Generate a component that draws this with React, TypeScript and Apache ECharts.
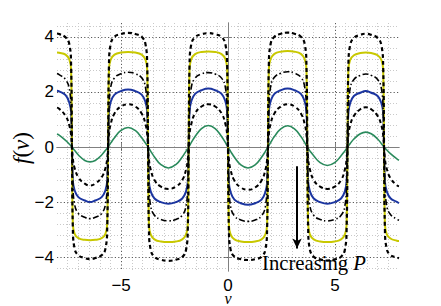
import React, { useEffect, useRef } from 'react';
import * as echarts from 'echarts';

// shared abscissa samples (v)
const vGrid = [
  -8, -7.9, -7.6, -7.42, -7.34, -7.3,
  -7.26, -7.18, -7.0, -6.7, -6.455, -6.21, -5.91, -5.73, -5.65, -5.61,
  -5.57, -5.49, -5.31, -5.01, -4.675, -4.34, -4.04, -3.86, -3.78, -3.74,
  -3.7, -3.62, -3.44, -3.14, -2.79, -2.44, -2.14, -1.96, -1.88, -1.84,
  -1.8, -1.72, -1.54, -1.24, -0.92, -0.6, -0.3, -0.12, -0.04, 0,
  0.04, 0.12, 0.3, 0.6, 0.935, 1.27, 1.57, 1.75, 1.83, 1.87,
  1.91, 1.99, 2.17, 2.47, 2.79, 3.11, 3.41, 3.59, 3.67, 3.71,
  3.75, 3.83, 4.01, 4.31, 4.65, 4.99, 5.29, 5.47, 5.55, 5.59,
  5.63, 5.71, 5.89, 6.19, 6.445, 6.7, 7.0, 7.18, 7.26, 7.3,
  7.34, 7.42, 7.6, 7.9, 8,
];

const outerDashed = [
  4.12, 4.1, 3.98, 3.72, 2.95, 0,
  -2.9, -3.68, -3.93, -4.03, -4.07, -4.03, -3.93, -3.68, -2.9, 0,
  2.95, 3.73, 4.0, 4.1, 4.14, 4.1, 4.0, 3.73, 2.95, 0,
  -2.95, -3.72, -3.99, -4.09, -4.13, -4.09, -3.99, -3.72, -2.95, 0,
  2.95, 3.72, 3.99, 4.09, 4.13, 4.09, 3.99, 3.72, 2.95, 0,
  -2.95, -3.72, -3.98, -4.07, -4.1, -4.07, -3.98, -3.72, -2.95, 0,
  2.95, 3.73, 4.0, 4.11, 4.15, 4.11, 4.0, 3.73, 2.95, 0,
  -2.95, -3.72, -3.98, -4.08, -4.12, -4.08, -3.98, -3.72, -2.95, 0,
  2.9, 3.68, 3.96, 4.07, 4.11, 4.07, 3.96, 3.68, 2.9, 0,
  -2.95, -3.68, -3.92, -4.01, -4.04,
];

const yellowSolid = [
  3.43, 3.42, 3.35, 3.17, 2.8, 0,
  -2.78, -3.14, -3.31, -3.37, -3.38, -3.37, -3.31, -3.14, -2.78, 0,
  2.8, 3.17, 3.35, 3.43, 3.45, 3.43, 3.35, 3.17, 2.8, 0,
  -2.8, -3.17, -3.35, -3.43, -3.45, -3.43, -3.35, -3.17, -2.8, 0,
  2.82, 3.19, 3.37, 3.45, 3.47, 3.45, 3.37, 3.19, 2.82, 0,
  -2.8, -3.17, -3.35, -3.43, -3.45, -3.43, -3.35, -3.17, -2.8, 0,
  2.82, 3.19, 3.38, 3.46, 3.48, 3.46, 3.38, 3.19, 2.82, 0,
  -2.8, -3.17, -3.35, -3.43, -3.45, -3.43, -3.35, -3.17, -2.8, 0,
  2.78, 3.15, 3.33, 3.41, 3.43, 3.41, 3.33, 3.15, 2.78, 0,
  -2.78, -3.15, -3.32, -3.4, -3.41,
];

const dashDot = [
  2.67, 2.63, 2.45, 2.1, 1.28, 0,
  -1.25, -2.07, -2.41, -2.55, -2.6, -2.55, -2.41, -2.07, -1.25, 0,
  1.3, 2.16, 2.51, 2.66, 2.71, 2.66, 2.51, 2.16, 1.3, 0,
  -1.29, -2.13, -2.48, -2.63, -2.68, -2.63, -2.48, -2.13, -1.29, 0,
  1.3, 2.15, 2.5, 2.65, 2.7, 2.65, 2.5, 2.15, 1.3, 0,
  -1.3, -2.15, -2.5, -2.65, -2.7, -2.65, -2.5, -2.15, -1.3, 0,
  1.31, 2.17, 2.53, 2.68, 2.73, 2.68, 2.53, 2.17, 1.31, 0,
  -1.29, -2.13, -2.48, -2.63, -2.68, -2.63, -2.48, -2.13, -1.29, 0,
  1.28, 2.11, 2.45, 2.6, 2.65, 2.6, 2.45, 2.11, 1.28, 0,
  -1.28, -2.11, -2.45, -2.62, -2.66,
];

const blueSolid = [
  2.04, 2.02, 1.88, 1.6, 1.26, 0,
  -1.23, -1.56, -1.82, -1.94, -2.0, -1.94, -1.82, -1.56, -1.23, 0,
  1.28, 1.63, 1.9, 2.03, 2.09, 2.03, 1.9, 1.63, 1.28, 0,
  -1.26, -1.6, -1.87, -2.0, -2.06, -2.0, -1.87, -1.6, -1.26, 0,
  1.3, 1.65, 1.93, 2.06, 2.12, 2.06, 1.93, 1.65, 1.3, 0,
  -1.29, -1.63, -1.91, -2.04, -2.1, -2.04, -1.91, -1.63, -1.29, 0,
  1.3, 1.65, 1.93, 2.06, 2.12, 2.06, 1.93, 1.65, 1.3, 0,
  -1.26, -1.6, -1.87, -2.0, -2.06, -2.0, -1.87, -1.6, -1.26, 0,
  1.24, 1.58, 1.85, 1.97, 2.03, 1.97, 1.85, 1.58, 1.24, 0,
  -1.25, -1.59, -1.86, -1.99, -2.04,
];

const innerDashed = [
  1.43, 1.39, 1.13, 0.77, 0.42, 0,
  -0.41, -0.75, -1.1, -1.33, -1.4, -1.33, -1.1, -0.75, -0.41, 0,
  0.45, 0.83, 1.22, 1.47, 1.55, 1.47, 1.22, 0.83, 0.45, 0,
  -0.44, -0.81, -1.2, -1.44, -1.52, -1.44, -1.2, -0.81, -0.44, 0,
  0.45, 0.83, 1.22, 1.47, 1.55, 1.47, 1.22, 0.83, 0.45, 0,
  -0.45, -0.83, -1.22, -1.47, -1.55, -1.47, -1.22, -0.83, -0.45, 0,
  0.45, 0.83, 1.22, 1.47, 1.55, 1.47, 1.22, 0.83, 0.45, 0,
  -0.44, -0.81, -1.2, -1.44, -1.52, -1.44, -1.2, -0.81, -0.44, 0,
  0.42, 0.77, 1.13, 1.37, 1.44, 1.37, 1.13, 0.77, 0.42, 0,
  -0.42, -0.77, -1.13, -1.39, -1.43,
];

const greenSolid = [
  0.47, 0.43, 0.24, 0.1, 0.035, 0,
  -0.04, -0.12, -0.29, -0.49, -0.54, -0.49, -0.29, -0.12, -0.04, 0,
  0.05, 0.14, 0.34, 0.6, 0.71, 0.6, 0.34, 0.14, 0.05, 0,
  -0.05, -0.15, -0.36, -0.64, -0.76, -0.64, -0.36, -0.15, -0.05, 0,
  0.05, 0.16, 0.38, 0.67, 0.78, 0.67, 0.38, 0.16, 0.05, 0,
  -0.05, -0.16, -0.37, -0.65, -0.76, -0.65, -0.37, -0.16, -0.05, 0,
  0.05, 0.16, 0.38, 0.66, 0.77, 0.66, 0.38, 0.16, 0.05, 0,
  -0.05, -0.14, -0.32, -0.57, -0.67, -0.57, -0.32, -0.14, -0.05, 0,
  0.04, 0.12, 0.29, 0.48, 0.54, 0.48, 0.29, 0.12, 0.04, 0,
  -0.035, -0.1, -0.24, -0.43, -0.48,
];

const xRange = [-8, 8];
const yRange = [-4.5, 4.5];
const xMajorTicks = [-5, 0, 5];
const yMajorTicks = [-4, -2, 0, 2, 4];
const xMinorStep = 0.5;
const yMinorStep = 0.4;

const arrowV = 3.23;
const arrowFrom = -0.7;
const arrowTo = -3.68;

const annotationText = 'Increasing ';
const annotationVar = 'P';

function minorValues(lo: number, hi: number, step: number, majors: number[]) {
  const out: number[] = [];
  const n0 = Math.ceil(lo / step - 1e-9);
  const n1 = Math.floor(hi / step + 1e-9);
  for (let k = n0; k <= n1; k++) {
    const v = Math.round(k * step * 1000) / 1000;
    if (v <= lo || v >= hi) continue;
    if (majors.some((m) => Math.abs(m - v) < 1e-6)) continue;
    out.push(v);
  }
  return out;
}

const fmt = (v: number) => (v < 0 ? '\u2212' + Math.abs(v) : String(v));

export default function App() {
  const ref = useRef<HTMLDivElement>(null);
  useEffect(() => {
    const chart = echarts.init(ref.current!, null, { renderer: 'svg' });
    const frame = '#808080';
    const majorGrid = { show: true, lineStyle: { color: '#5a5a5a', width: 1, type: [1.2, 2.2] } };
    const minorGrid = { show: true, lineStyle: { color: '#c9c9c9', width: 1, type: [1, 2] } };
    const labelFont = '"Liberation Sans", Arial, sans-serif';
    const serif = '"Liberation Serif", serif';

    const mk = (vals: number[]) => vGrid.map((v, i) => [v, vals[i]]);
    const lineSeries = (name: string, vals: number[], color: string, width: number, type: any, z: number) => ({
      name,
      type: 'line',
      data: mk(vals),
      xAxisIndex: 0,
      yAxisIndex: 0,
      showSymbol: false,
      symbol: 'none',
      smooth: 0.45,
      z,
      lineStyle: { color, width, type },
      silent: true,
    });

    const option: any = {
      animation: false,
      backgroundColor: '#fff',
      grid: { left: 57, right: 42, top: 23, bottom: 35, containLabel: false, outerBoundsMode: 'none' },
      xAxis: [
        {
          type: 'value', min: xRange[0], max: xRange[1], position: 'bottom',
          axisLine: { show: true, lineStyle: { color: frame, width: 1 } },
          axisTick: { show: true, inside: true, length: 4, customValues: xMajorTicks, lineStyle: { color: frame } },
          axisLabel: {
            show: true, customValues: xMajorTicks, formatter: fmt, margin: 8,
            color: '#000', fontSize: 17, lineHeight: 12, fontFamily: labelFont,
          },
          splitLine: majorGrid,
          z: 1,
        },
        {
          type: 'value', min: xRange[0], max: xRange[1], position: 'bottom',
          axisLine: { show: false },
          axisTick: { show: false, customValues: minorValues(xRange[0], xRange[1], xMinorStep, xMajorTicks) },
          axisLabel: { show: false },
          splitLine: minorGrid,
          z: 0,
        },
        {
          type: 'value', min: xRange[0], max: xRange[1], position: 'top',
          axisLine: { show: true, lineStyle: { color: frame, width: 1 } },
          axisTick: { show: true, inside: true, length: 4, customValues: xMajorTicks, lineStyle: { color: frame } },
          axisLabel: { show: false },
          splitLine: { show: false },
        },
      ],
      yAxis: [
        {
          type: 'value', min: yRange[0], max: yRange[1], position: 'left',
          axisLine: { show: true, lineStyle: { color: frame, width: 1 } },
          axisTick: { show: true, inside: true, length: 4, customValues: yMajorTicks, lineStyle: { color: frame } },
          axisLabel: {
            show: true, customValues: yMajorTicks, formatter: fmt, margin: 3,
            color: '#000', fontSize: 17, lineHeight: 14, fontFamily: labelFont,
          },
          splitLine: majorGrid,
          z: 1,
        },
        {
          type: 'value', min: yRange[0], max: yRange[1], position: 'left',
          axisLine: { show: false },
          axisTick: { show: false, customValues: minorValues(yRange[0], yRange[1], yMinorStep, yMajorTicks) },
          axisLabel: { show: false },
          splitLine: minorGrid,
          z: 0,
        },
        {
          type: 'value', min: yRange[0], max: yRange[1], position: 'right',
          axisLine: { show: true, lineStyle: { color: frame, width: 1 } },
          axisTick: { show: true, inside: true, length: 4, customValues: yMajorTicks, lineStyle: { color: frame } },
          axisLabel: { show: false },
          splitLine: { show: false },
        },
      ],
      series: [
        lineSeries('green', greenSolid, '#2a8a5c', 1.6, 'solid', 2),
        lineSeries('blue', blueSolid, '#1b35a0', 2, 'solid', 3),
        lineSeries('yellow', yellowSolid, '#c8c800', 2, 'solid', 4),
        lineSeries('innerDashed', innerDashed, '#000', 2, [4, 3], 5),
        lineSeries('dashDot', dashDot, '#000', 1.6, [6, 2.5, 1.5, 2.5], 6),
        lineSeries('outerDashed', outerDashed, '#000', 2.2, [4, 3], 7),
        {
          type: 'line',
          data: [],
          xAxisIndex: 0,
          yAxisIndex: 0,
          z: 8,
          markLine: {
            silent: true,
            animation: false,
            symbol: ['none', 'arrow'],
            symbolSize: [7, 10],
            label: { show: false },
            lineStyle: { color: '#000', width: 2, type: 'solid' },
            data: [[{ coord: [arrowV, arrowFrom] }, { coord: [arrowV, arrowTo] }]],
          },
        },
      ],
      graphic: [
        {
          type: 'text',
          x: 21,
          y: 148,
          rotation: Math.PI / 2,
          style: {
            text: '{i|f}{r|(}{i|v}{r|)}',
            align: 'center',
            verticalAlign: 'middle',
            fill: '#000',
            fontSize: 23,
            fontFamily: serif,
            rich: {
              i: { fontSize: 23, fontFamily: serif, fontStyle: 'italic', fill: '#000' },
              r: { fontSize: 23, fontFamily: serif, fill: '#000' },
            },
          },
          z: 10,
        },
        {
          type: 'text',
          x: 228,
          y: 298,
          style: {
            text: 'v',
            align: 'center',
            verticalAlign: 'middle',
            fill: '#000',
            fontSize: 16,
            lineHeight: 9,
            fontStyle: 'italic',
            fontFamily: serif,
          },
          z: 10,
        },
        {
          type: 'text',
          x: 262,
          y: 263,
          style: {
            text: '{r|' + annotationText + '}{i|' + annotationVar + '}',
            align: 'left',
            verticalAlign: 'middle',
            fill: '#000',
            fontSize: 20.7,
            fontFamily: serif,
            rich: {
              r: { fontSize: 20.7, fontFamily: serif, fill: '#000' },
              i: { fontSize: 20.7, fontFamily: serif, fontStyle: 'italic', fill: '#000' },
            },
          },
          z: 10,
        },
      ],
    };
    chart.setOption(option);
    return () => chart.dispose();
  }, []);
  return (
    <div
      ref={ref}
      style={{ position: 'fixed', left: 0, top: 0, width: 441, height: 306, background: '#fff' }}
    />
  );
}
